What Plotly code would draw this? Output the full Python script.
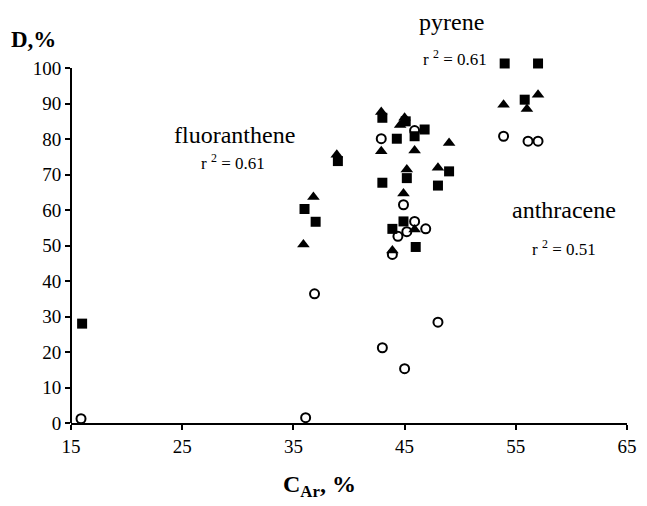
import plotly.graph_objects as go

# pyrene-like series (filled squares)
sq_x = [16, 36, 37, 39, 43, 43, 44.3, 43.9, 45.1, 45.2, 44.9, 45.9, 46, 46.8, 48, 49, 54, 55.8, 57]
sq_y = [28, 60.3, 56.7, 73.8, 86, 67.7, 80.1, 54.7, 85, 69, 56.8, 80.8, 49.6, 82.7, 66.9, 70.9, 101.3, 91.1, 101.3]

# triangles
tri_x = [35.9, 36.8, 38.9, 42.9, 42.9, 43.9, 44.6, 45, 45.2, 44.9, 45.9, 45.9, 48, 49, 53.9, 56, 57]
tri_y = [50.3, 63.7, 75.6, 87.6, 76.6, 48.6, 84, 86, 71.4, 64.7, 76.8, 54.5, 71.9, 78.9, 89.7, 88.5, 92.5]

# open circles
cir_x = [15.9, 36.1, 36.9, 42.9, 43, 43.9, 44.4, 44.9, 45.2, 45, 45.9, 45.9, 46.9, 48, 53.9, 56.1, 57]
cir_y = [1.2, 1.5, 36.4, 80.1, 21.2, 47.5, 52.6, 61.5, 53.9, 15.3, 56.8, 82.4, 54.7, 28.4, 80.8, 79.4, 79.4]

x_ticks = [15, 25, 35, 45, 55, 65]
y_ticks = [0, 10, 20, 30, 40, 50, 60, 70, 80, 90, 100]

labels = ["pyrene", "fluoranthene", "anthracene"]
r2 = ["0.61", "0.61", "0.51"]

FONT = "Liberation Serif"
Y_TOP = 102  # small headroom so markers at ~101 are drawn

fig = go.Figure()
fig.add_trace(go.Scatter(x=sq_x, y=sq_y, mode="markers", name=labels[0],
                         marker=dict(symbol="square", size=10, color="black"),
                         cliponaxis=False))
fig.add_trace(go.Scatter(x=tri_x, y=tri_y, mode="markers", name=labels[1],
                         marker=dict(symbol="triangle-up", size=11, color="black"),
                         cliponaxis=False))
fig.add_trace(go.Scatter(x=cir_x, y=cir_y, mode="markers", name=labels[2],
                         marker=dict(symbol="circle-open", size=9, color="black",
                                     line=dict(width=2, color="black")),
                         cliponaxis=False))

ann = []
def lab(x, yp, text, size):
    ann.append(dict(x=x, y=yp / Y_TOP, xref="x", yref="paper", text=text, showarrow=False,
                    xanchor="center", yanchor="middle",
                    font=dict(family=FONT, size=size, color="black")))

R2 = "r&nbsp;<sup>2</sup>&nbsp;= "
lab(49.2, 112.9, labels[0], 24)
lab(49.5, 102.8, R2 + r2[0], 17)
lab(29.7, 81.2, labels[1], 24)
lab(29.6, 73.6, R2 + r2[1], 17)
lab(59.3, 60.0, labels[2], 24)
lab(59.3, 49.4, R2 + r2[2], 17)

ann.append(dict(x=-0.067, y=1.06, xref="paper", yref="paper", text="<b>D,%</b>",
                xanchor="center", yanchor="middle",
                showarrow=False, font=dict(family=FONT, size=23, color="black")))
ann.append(dict(x=0.447, y=-0.175, xref="paper", yref="paper",
                xanchor="center", yanchor="middle",
                text="<b>C<sub>Ar</sub>, %</b>", showarrow=False,
                font=dict(family=FONT, size=24, color="black")))

fig.update_layout(
    width=647, height=506,
    margin=dict(l=71, r=10, t=61, b=83),
    plot_bgcolor="white", paper_bgcolor="white",
    showlegend=False,
    annotations=ann,
    font=dict(family=FONT, size=19, color="black"),
    shapes=[dict(type="line", xref="paper", yref="y", x0=0, x1=0, y0=0, y1=100,
                 line=dict(color="black", width=2))],
)
fig.update_xaxes(range=[15, 65], tickvals=x_ticks, ticks="outside", ticklen=5,
                 tickwidth=1.5, tickcolor="black", showline=True, linecolor="black",
                 linewidth=2, showgrid=False, zeroline=False,
                 tickfont=dict(family=FONT, size=19, color="black"))
fig.update_yaxes(range=[0, Y_TOP], tickvals=y_ticks, ticks="outside", ticklen=5,
                 tickwidth=1.5, tickcolor="black", showline=False,
                 showgrid=False, zeroline=False,
                 tickfont=dict(family=FONT, size=19, color="black"))

fig.write_html("out.html")
